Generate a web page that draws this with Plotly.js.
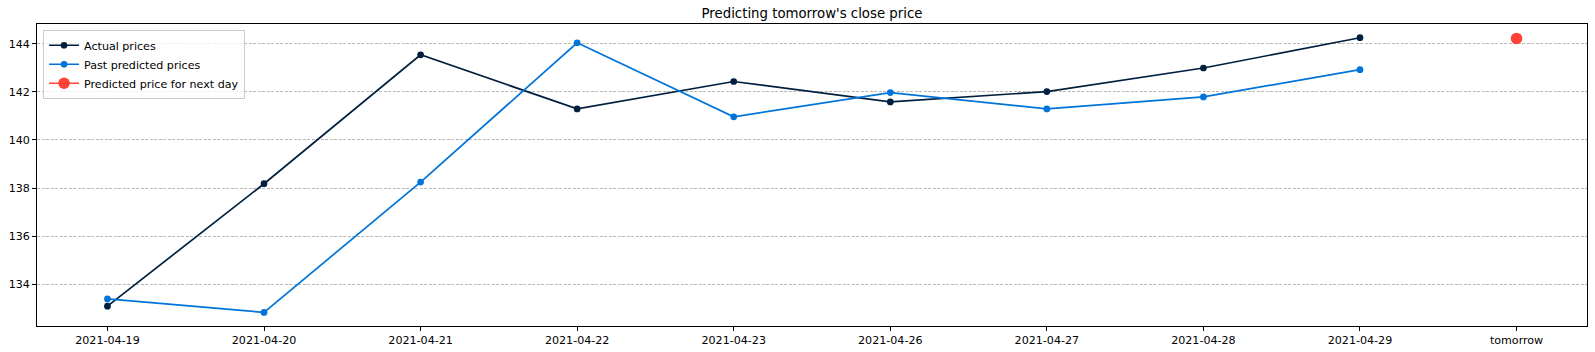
<!DOCTYPE html>
<html>
<head>
<meta charset="utf-8">
<script src="https://cdn.plot.ly/plotly-3.0.1.min.js"></script>
<style>html,body{margin:0;padding:0;background:#fff;}#chart{width:1595px;height:352px;}</style>
</head>
<body>
<div id="chart"></div>
<script>
const dates = ['2021-04-19','2021-04-20','2021-04-21','2021-04-22','2021-04-23','2021-04-26','2021-04-27','2021-04-28','2021-04-29'];
const nextLabel = ['tomorrow'];
const actualPrices = [133.09, 138.18, 143.54, 141.29, 142.43, 141.58, 142.01, 142.99, 144.25];
const pastPredicted = [133.39, 132.83, 138.25, 144.04, 140.96, 141.97, 141.29, 141.79, 142.92];
const nextDayPrice = [144.22];
const yTicks = [134, 136, 138, 140, 142, 144];

const allCats = dates.concat(nextLabel);
const font = {family: 'DejaVu Sans, sans-serif', size: 11.1, color: '#000'};

const traces = [
  {x: dates, y: actualPrices, name: 'Actual prices', mode: 'lines+markers',
   line: {color: '#001f3f', width: 1.7}, marker: {color: '#001f3f', size: 6.7}},
  {x: dates, y: pastPredicted, name: 'Past predicted prices', mode: 'lines+markers',
   line: {color: '#0074D9', width: 1.7}, marker: {color: '#0074D9', size: 6.7}},
  {x: nextLabel, y: nextDayPrice, name: 'Predicted price for next day', mode: 'lines+markers',
   line: {color: '#FF4136', width: 1.7}, marker: {color: '#FF4136', size: 11.5}}
];

const layout = {
  width: 1595, height: 352,
  margin: {l: 37.3, r: 7.7, t: 24.3, b: 26, pad: 0},
  paper_bgcolor: '#fff', plot_bgcolor: '#fff',
  font: font,
  title: {text: "Predicting tomorrow's close price", font: {family: 'DejaVu Sans, sans-serif', size: 13.3, color: '#000'},
          x: 0.5, xanchor: 'center', xref: 'paper', y: 1 - 13.5/352, yref: 'container', yanchor: 'middle'},
  showlegend: true,
  legend: {x: 0.0039, y: 0.981, xanchor: 'left', yanchor: 'top', bgcolor: 'rgba(255,255,255,0.8)',
           bordercolor: '#cccccc', borderwidth: 1, font: font, tracegroupgap: 0, itemwidth: 30},
  xaxis: {type: 'category', categoryorder: 'array', categoryarray: allCats,
          range: [-0.45, 9.45], showgrid: false, zeroline: false,
          showline: true, linecolor: '#000', linewidth: 1, mirror: true,
          ticks: 'outside', ticklen: 3.9, tickwidth: 1, tickcolor: '#000', tickfont: font},
  yaxis: {range: [132.265, 144.82], tickvals: yTicks, ticktext: yTicks.map(String),
          showgrid: true, gridcolor: '#b0b0b0', griddash: '3px,1.5px', gridwidth: 0.9, zeroline: false,
          showline: true, linecolor: '#000', linewidth: 1, mirror: true,
          ticks: 'outside', ticklen: 3.9, tickwidth: 1, tickcolor: '#000', tickfont: font}
};

Plotly.newPlot('chart', traces, layout, {staticPlot: true, displayModeBar: false});
</script>
</body>
</html>
